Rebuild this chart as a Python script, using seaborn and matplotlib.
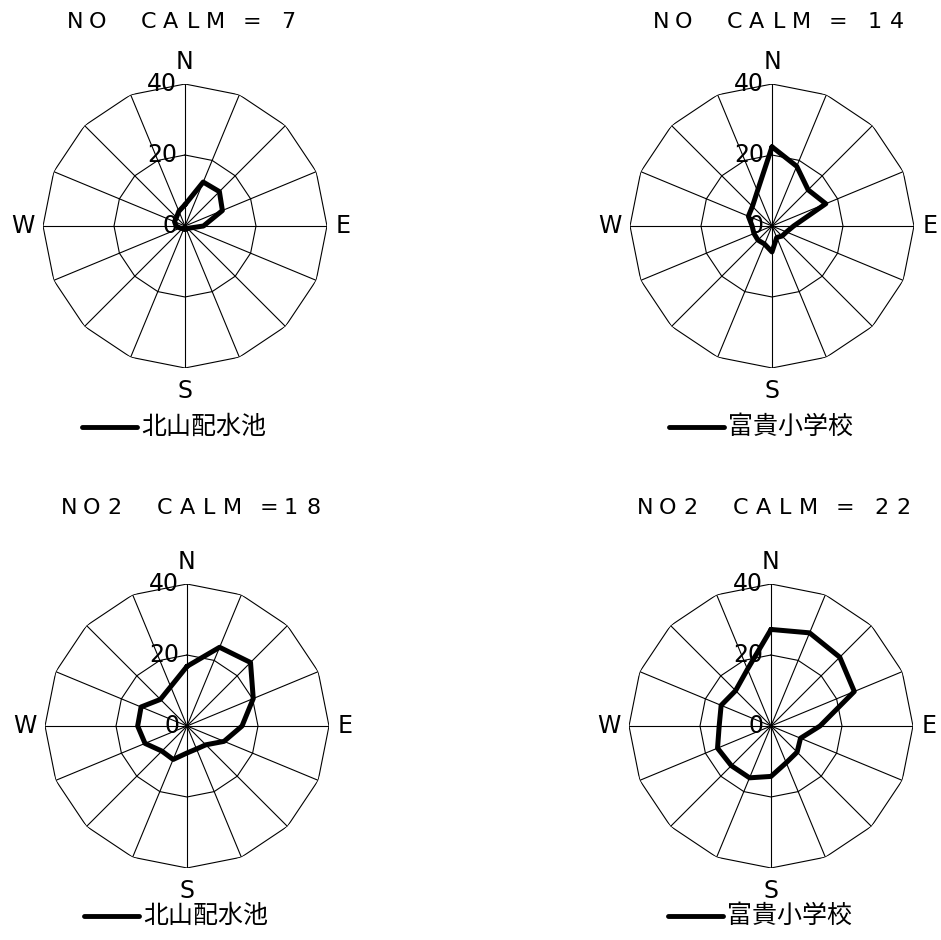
import numpy as np
import pandas as pd
import matplotlib
matplotlib.use("Agg")
import matplotlib.pyplot as plt
from matplotlib import font_manager
from matplotlib.lines import Line2D
import seaborn as sns

# 16 wind directions, clockwise from north
directions = ["N", "NNE", "NE", "ENE", "E", "ESE", "SE", "SSE",
              "S", "SSW", "SW", "WSW", "W", "WNW", "NW", "NNW"]

# mean concentration by wind direction
no_kitayama = [6.0, 13.4, 13.7, 11.4, 5.2, 1.5, 1.0, 1.0,
               1.0, 1.0, 1.0, 1.5, 2.5, 3.2, 3.4, 4.5]
no_fuki = [22.3, 18.2, 14.4, 16.4, 6.1, 4.4, 4.0, 3.5,
           7.3, 5.5, 5.6, 5.5, 5.6, 7.2, 7.8, 10.7]
no2_kitayama = [16.8, 24.0, 25.3, 20.2, 15.5, 11.3, 7.5, 7.0,
                7.6, 10.2, 10.0, 12.8, 13.9, 14.0, 10.6, 12.0]
no2_fuki = [27.2, 28.4, 27.4, 25.4, 13.8, 9.0, 10.4, 11.2,
            14.2, 15.8, 15.8, 16.3, 14.6, 15.2, 14.1, 17.3]

titles = ["NO  CALM = 7", "NO  CALM = 14", "NO2  CALM =18", "NO2  CALM = 22"]
stations = ["北山配水池", "富貴小学校", "北山配水池", "富貴小学校"]
radial_ticks = [0, 20, 40]
compass = ["N", "E", "S", "W"]

sns.set_theme(style="white")
plt.rcParams["font.family"] = ["DejaVu Sans"]


def narrow_family():
    """Prefer a narrow sans for the Latin labels when one is installed."""
    for name in ["Liberation Sans Narrow", "DejaVu Sans"]:
        try:
            font_manager.findfont(font_manager.FontProperties(family=name),
                                  fallback_to_default=False)
            return name
        except Exception:
            continue
    return "DejaVu Sans"


LATIN = dict(family=[narrow_family(), "DejaVu Sans"], color="black")
CJK = ["Noto Sans CJK JP", "DejaVu Sans"]

W, H = 941, 940
fig = plt.figure(figsize=(W / 100, H / 100), dpi=100)
fig.patch.set_facecolor("white")

R = 142           # pixel radius of the outer ring
RMAX = 40


def spaced_text(x, y, s, pitch=22.5, space=14, size=16):
    """Draw a string one glyph at a time with wide tracking (pixel coords)."""
    for ch in s:
        if ch == " ":
            x += space
            continue
        fig.text(x / W, 1 - y / H, ch, ha="center", va="center",
                 fontsize=size, **LATIN)
        x += pitch


layout = [
    # centre x, centre y, title x, title y, legend y
    (185, 226, 75, 22, 427),
    (772, 226, 661, 22, 427),
    (187, 726, 69, 508, 916),
    (771, 726, 645, 508, 916),
]
series = [no_kitayama, no_fuki, no2_kitayama, no2_fuki]

theta = np.deg2rad(np.arange(16) * 22.5)
theta_closed = np.append(theta, theta[0])

for (cx, cy, tx, ty, ly), vals, title, station in zip(layout, series, titles, stations):
    ax = fig.add_axes([(cx - R) / W, (H - cy - R) / H, 2 * R / W, 2 * R / H],
                      projection="polar")
    ax.set_theta_zero_location("N")
    ax.set_theta_direction(-1)

    # polygonal rings and spokes
    for r in radial_ticks[1:]:
        ax.plot(theta_closed, [r] * len(theta_closed), color="black", lw=0.8)
    for t in theta:
        ax.plot([t, t], [0, RMAX], color="black", lw=0.8)

    df = pd.DataFrame({"theta": theta_closed,
                       "value": list(vals) + [vals[0]]})
    sns.lineplot(data=df, x="theta", y="value", sort=False, estimator=None,
                 color="black", linewidth=3.6, ax=ax)

    ax.set_ylim(0, RMAX)
    ax.axis("off")

    for r in radial_ticks:
        ax.annotate(str(r), xy=(0, r), xytext=(-8, 0), textcoords="offset pixels",
                    ha="right", va="center", fontsize=17, **LATIN)

    offsets = {"N": (0, 22), "E": (16, 0), "S": (0, -23), "W": (-20, 0)}
    for name, ang in zip(compass, [0, 90, 180, 270]):
        ax.annotate(name, xy=(np.deg2rad(ang), RMAX), xytext=offsets[name],
                    textcoords="offset pixels", ha="center", va="center",
                    fontsize=17, annotation_clip=False, **LATIN)

    spaced_text(tx, ty, title)

    # legend: sample line and station name
    fig.add_artist(Line2D([(cx - 103) / W, (cx - 48) / W],
                          [1 - ly / H, 1 - ly / H],
                          transform=fig.transFigure, color="black", lw=3.5))
    fig.text((cx - 44) / W, 1 - ly / H, station, ha="left", va="center",
             fontsize=18, family=CJK, color="black")

fig.savefig("out.png", dpi=100, facecolor="white")
